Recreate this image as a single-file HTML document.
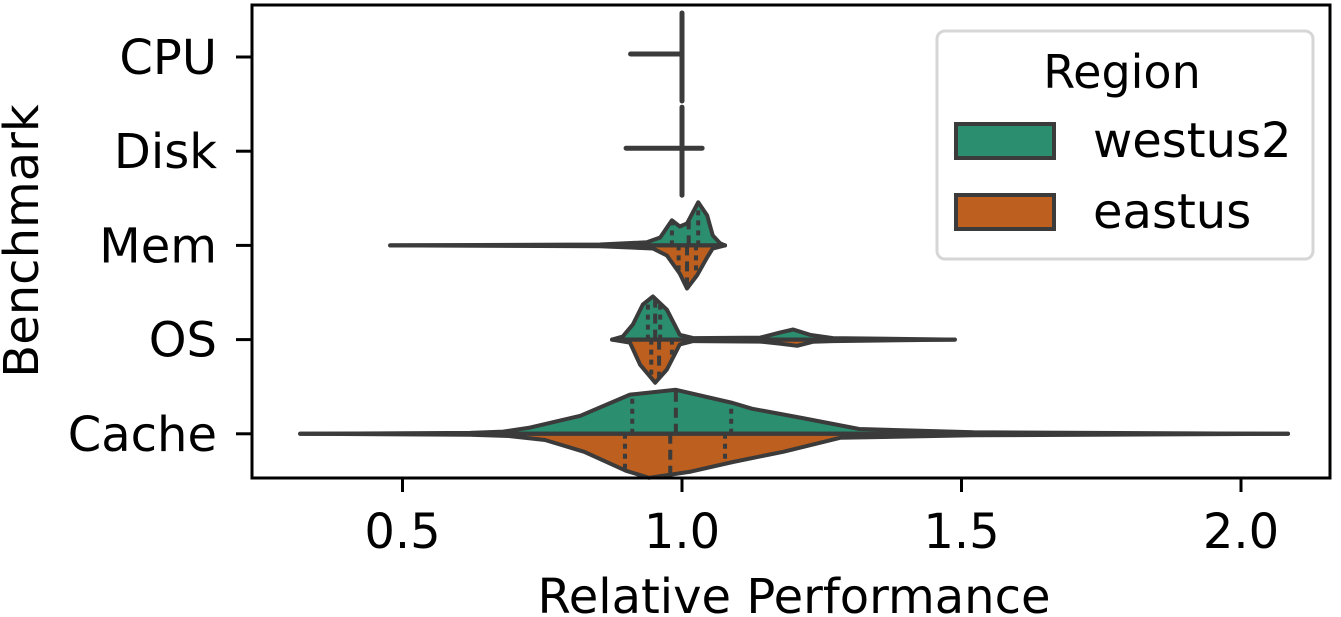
<!DOCTYPE html>
<html><head><meta charset="utf-8"><style>
html,body{margin:0;padding:0;background:#fff;}
svg{display:block;font-family:"DejaVu Sans","Liberation Sans",sans-serif;}
</style></head><body>
<svg id="chart" width="1341" height="617" viewBox="0 0 1341 617"></svg>
<script>
const categories = ["CPU","Disk","Mem","OS","Cache"];
const xTicks = [0.5,1.0,1.5,2.0];
const xTickLabels = ["0.5","1.0","1.5","2.0"];
const regions = ["westus2","eastus"];
const colors = ["#2a8e6f","#bd5f1e"];
// degenerate violins (CPU, Disk): [min, max]
const cpuRange = [0.908, 1.0];
const diskRange = [0.900, 1.036];
// profiles: value positions and relative densities (1 = max width)
const memWestX = [0.478,0.853,0.937,0.961,0.982,0.996,1.009,1.029,1.045,1.055,1.068,1.077];
const memWestD = [0,0.02,0.07,0.18,0.57,0.43,0.5,0.98,0.68,0.23,0.05,0];
const memEastX = [0.478,0.853,0.948,0.973,0.996,1.009,1.027,1.045,1.055,1.077];
const memEastD = [0,0.02,0.07,0.23,0.64,0.98,0.68,0.27,0.07,0];
const osWestX = [0.875,0.894,0.912,0.930,0.948,0.973,0.996,1.020,1.140,1.175,1.199,1.229,1.270,1.488];
const osWestD = [0,0.07,0.34,0.8,0.98,0.68,0.11,0.035,0.045,0.16,0.23,0.11,0.035,0];
const osEastX = [0.875,0.907,0.925,0.952,0.973,0.996,1.020,1.140,1.175,1.206,1.234,1.270,1.488];
const osEastD = [0,0.07,0.57,0.98,0.68,0.11,0.035,0.045,0.09,0.14,0.05,0.035,0];
const cacheWestX = [0.317,0.621,0.680,0.728,0.818,0.907,0.989,1.091,1.125,1.215,1.317,1.522,2.084];
const cacheWestD = [0,0.02,0.05,0.14,0.41,0.89,1.0,0.7,0.57,0.36,0.11,0.035,0];
const cacheEastX = [0.317,0.621,0.690,0.755,0.825,0.900,0.941,1.016,1.091,1.181,1.283,1.522,2.084];
const cacheEastD = [0,0.02,0.05,0.14,0.41,0.84,1.0,0.86,0.64,0.41,0.09,0.035,0];
const memQuart = [[0.982,1.012,1.029],[0.994,1.009,1.025]];
const osQuart = [[0.939,0.952,0.961],[0.945,0.959,0.982]];
const cacheQuart = [[0.911,0.989,1.088],[0.898,0.979,1.077]];

const L=252,R=1330,T=5,B=478, MAXW=44;
const sx = v => 682 + (v-1)*559;
const sy = i => 57 + i*94.2;
const NS="http://www.w3.org/2000/svg";
const svg=document.getElementById('chart');
function el(tag,attrs,parent){const e=document.createElementNS(NS,tag);for(const k in attrs)e.setAttribute(k,attrs[k]);(parent||svg).appendChild(e);return e;}
const LC="#3b3b3b";

function dens(xs,ds,v){for(let i=0;i<xs.length-1;i++){if(v>=xs[i]&&v<=xs[i+1]){const t=(v-xs[i])/(xs[i+1]-xs[i]);return ds[i]+t*(ds[i+1]-ds[i]);}}return 0;}
function half(ci,xs,ds,sign,color,quart,name){
  const cy=sy(ci);
  let d="M"+sx(xs[0])+","+cy;
  for(let i=0;i<xs.length;i++) d+=" L"+sx(xs[i]).toFixed(1)+","+(cy+sign*ds[i]*MAXW).toFixed(1);
  d+=" Z";
  const p=el('path',{d:d,fill:color,stroke:LC,'stroke-width':4,'stroke-linejoin':'round'});
  
  
  quart.forEach((q,k)=>{
    const h=dens(xs,ds,q)*MAXW;
    const ln=el('line',{x1:sx(q),x2:sx(q),y1:cy,y2:cy+sign*h,stroke:LC,'stroke-width':4,'stroke-dasharray':k===1?'10,6':'5,5'});
    
    
  });
}
xTicks.forEach((t,i)=>{
  const tk=el('line',{x1:sx(t),x2:sx(t),y1:B,y2:B+14,stroke:'#000','stroke-width':3});
  
  
  const tx=el('text',{x:sx(t),y:548,'font-size':48,'text-anchor':'middle',fill:'#000'});
  tx.textContent=xTickLabels[i];
  
  
});
categories.forEach((c,i)=>{
  const tk=el('line',{x1:L-16,x2:L,y1:sy(i),y2:sy(i),stroke:'#000','stroke-width':3});
  
  
  const tx=el('text',{x:217,y:sy(i)+17,'font-size':48,'text-anchor':'end',fill:'#000'});
  tx.textContent=c;
  
  
});
[[cpuRange,0],[diskRange,1]].forEach(([r,i])=>{
  const cy=sy(i);
  const h=el('line',{x1:sx(r[0]),x2:sx(r[1]),y1:cy-3,y2:cy-3,stroke:LC,'stroke-width':5,'stroke-linecap':'round'});
  
  
  const v=el('line',{x1:sx(1.0),x2:sx(1.0),y1:cy-MAXW,y2:cy+MAXW,stroke:LC,'stroke-width':5,'stroke-linecap':'round'});
  
  
});
half(2,memWestX,memWestD,-1,colors[0],memQuart[0],'mem-westus2');
half(2,memEastX,memEastD,1,colors[1],memQuart[1],'mem-eastus');
half(3,osWestX,osWestD,-1,colors[0],osQuart[0],'os-westus2');
half(3,osEastX,osEastD,1,colors[1],osQuart[1],'os-eastus');
half(4,cacheWestX,cacheWestD,-1,colors[0],cacheQuart[0],'cache-westus2');
half(4,cacheEastX,cacheEastD,1,colors[1],cacheQuart[1],'cache-eastus');
[2,3,4].forEach(i=>{
  const xs=[memWestX,osWestX,cacheWestX][i-2];
  const m=el('line',{x1:sx(xs[0]),x2:sx(xs[xs.length-1]),y1:sy(i),y2:sy(i),stroke:LC,'stroke-width':4,'stroke-linecap':'round'});
  
  
});
const fr=el('rect',{x:L,y:T,width:R-L,height:B-T,fill:'none',stroke:'#000','stroke-width':3});


const xt=el('text',{x:794,y:613,'font-size':48,'text-anchor':'middle',fill:'#000'});
xt.textContent='Relative Performance';


const yt=el('text',{x:0,y:0,'font-size':48,'text-anchor':'middle',fill:'#000',transform:'translate(38,241) rotate(-90)'});
yt.textContent='Benchmark';


const lg=el('g',{});


el('rect',{x:937,y:31,width:376,height:228,rx:8,fill:'#fff',stroke:'#d6d6d6','stroke-width':3},lg);
const lt=el('text',{x:1122,y:88,'font-size':46,'text-anchor':'middle',fill:'#000'},lg);
lt.textContent='Region';


regions.forEach((r,i)=>{
  const y=124+i*71;
  const pr=el('rect',{x:956,y:y,width:98,height:34,fill:colors[i],stroke:LC,'stroke-width':4},lg);
  
  
  const tx=el('text',{x:1093,y:y+33,'font-size':48,fill:'#000'},lg);
  tx.textContent=r;
  
  
});
</script>
</body></html>
